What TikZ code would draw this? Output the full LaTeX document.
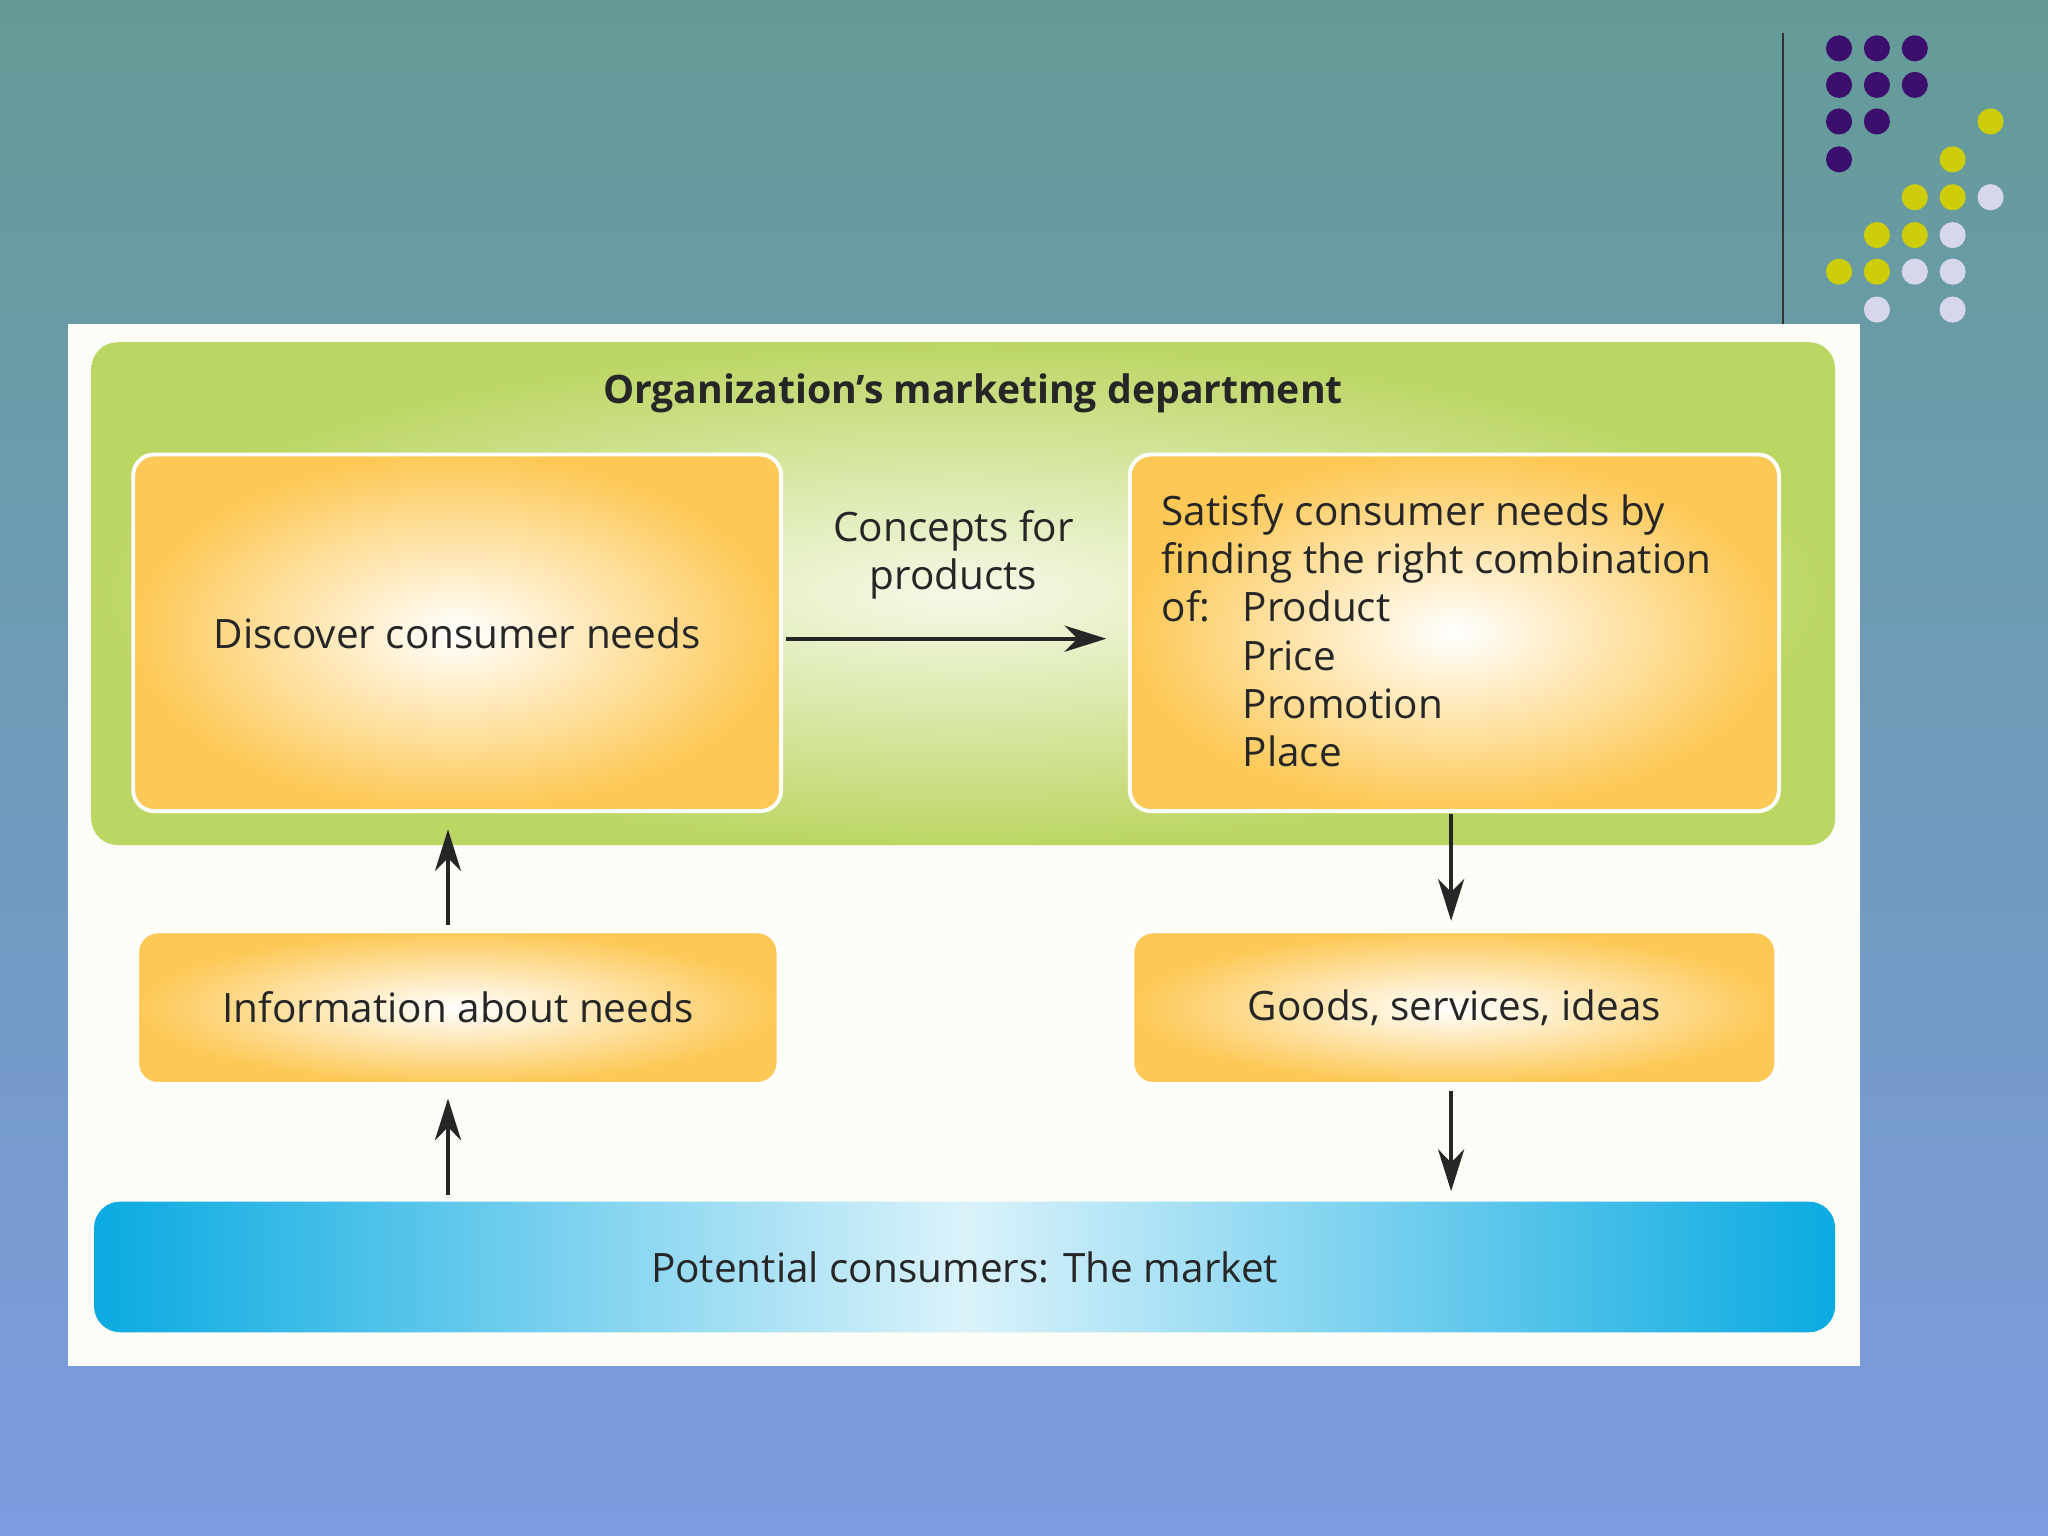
\documentclass[tikz,border=0pt]{standalone}
\usepackage{fontspec}
\setmainfont{Open Sans}
\usetikzlibrary{arrows.meta}
\definecolor{bgtop}{RGB}{100,155,150}
\definecolor{bgbot}{RGB}{125,155,225}
\definecolor{grn}{RGB}{188,214,100}
\definecolor{org}{RGB}{253,200,85}
\definecolor{blu}{RGB}{10,170,225}
\definecolor{pur}{RGB}{60,15,110}
\definecolor{yel}{RGB}{205,205,10}
\definecolor{lav}{RGB}{215,215,235}
\begin{document}
\begin{tikzpicture}[x=0.5pt,y=-0.5pt,
  box/.style={draw=white,line width=1.5pt,rounded corners=8pt,inner color=white,outer color=org,font=\fontsize{15.5}{18.5}\selectfont,text=black!85},
  arr/.style={-{Stealth[length=16pt,width=10pt,inset=5pt]},line width=1.4pt,black!85},
  dot/.style={circle,inner sep=0pt,minimum size=10pt}]
\shade[top color=bgtop,bottom color=bgbot] (0,0) rectangle (1568,1176);
\useasboundingbox (0,0) rectangle (1568,1176);
\draw[black!80,line width=0.7pt] (1365,25) -- (1365,248);
\foreach \x/\y in {1408/37,1437/37,1466/37,1408/65,1437/65,1466/65,1408/93,1437/93,1408/122}
  \node[dot,fill=pur] at (\x,\y) {};
\foreach \x/\y in {1524/93,1495/122,1466/151,1495/151,1437/180,1466/180,1408/208,1437/208}
  \node[dot,fill=yel] at (\x,\y) {};
\foreach \x/\y in {1524/151,1495/180,1466/208,1495/208,1437/237,1495/237}
  \node[dot,fill=lav] at (\x,\y) {};
\node[fill=white!94!grn,minimum width=686pt,minimum height=399pt,inner sep=0pt] (panel) at (738,647) {};
\node[rounded corners=10pt,inner color=white!85!grn,outer color=grn,minimum width=667.5pt,minimum height=192.5pt] (dept) at (737.5,454.5) {};
\node[font=\bfseries\fontsize{15}{18}\selectfont,text=black!85] (title) at (745,301) {Organization’s marketing department};
\node[box,minimum width=248pt,minimum height=136.5pt] (disc) at (350,484.5) {Discover consumer needs};
\node[box,minimum width=248.5pt,minimum height=136.5pt] (sat) at (1113.5,484.5) {};
\node[anchor=north west,align=left,inner sep=0pt,font=\fontsize{15.5}{18.5}\selectfont,text=black!85] (sattext) at (889,378)
  {Satisfy consumer needs by\\finding the right combination\\\makebox[31pt][l]{of:}Product\\\hspace*{31pt}Price\\\hspace*{31pt}Promotion\\\hspace*{31pt}Place};
\node[box,minimum width=245.5pt,minimum height=58.5pt] (info) at (350.5,771.5) {Information about needs};
\node[box,minimum width=246.5pt,minimum height=58.5pt] (goods) at (1113.5,771.5) {Goods, services, ideas};
\node[rounded corners=10pt,left color=blu,right color=blu,middle color=white!85!blu,minimum width=666.5pt,minimum height=50pt,font=\fontsize{15.5}{18}\selectfont,text=black!85] (market) at (738.5,970) {Potential consumers: The market};
\node[align=center,font=\fontsize{15.5}{18.5}\selectfont,text=black!85] (concepts) at (730,425) {Concepts for\\products};
\coordinate (c1) at (602,489); \coordinate (c2) at (847,489);
\coordinate (u1) at (343,708); \coordinate (u2) at (343,635);
\coordinate (u3) at (343,915); \coordinate (u4) at (343,841);
\coordinate (d1) at (1111,623); \coordinate (d2) at (1111,705);
\coordinate (d3) at (1111,835); \coordinate (d4) at (1111,912);
\draw[arr] (c1) -- (c2);
\draw[arr] (u1) -- (u2);
\draw[arr] (u3) -- (u4);
\draw[arr] (d1) -- (d2);
\draw[arr] (d3) -- (d4);
\end{tikzpicture}
\end{document}
